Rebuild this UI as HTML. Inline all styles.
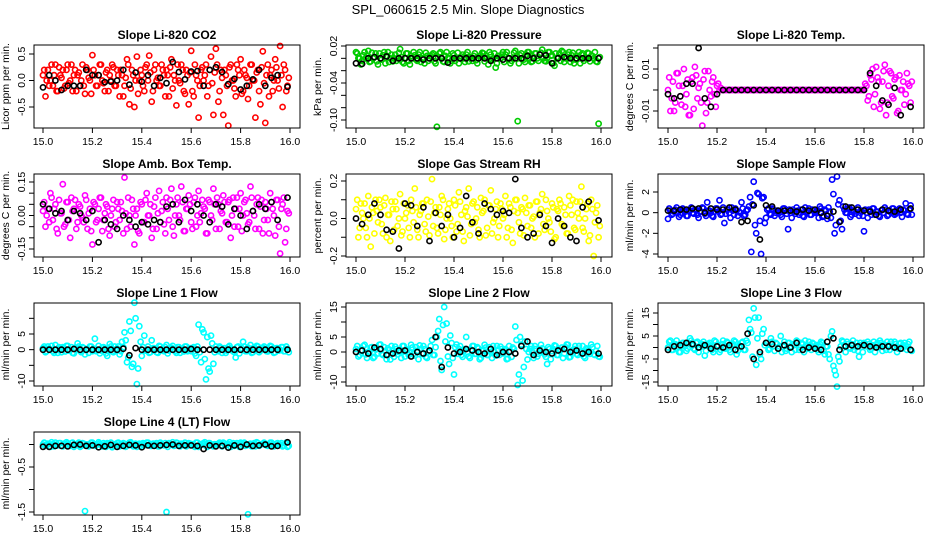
<!DOCTYPE html>
<html><head><meta charset="utf-8"><style>
html,body{margin:0;padding:0;background:#fff;}
svg{display:block;font-family:"Liberation Sans",sans-serif;}
</style></head><body>
<svg id="chart" width="936" height="540" viewBox="0 0 936 540" xmlns="http://www.w3.org/2000/svg">
<rect x="0" y="0" width="936" height="540" fill="#fff"/>
<text x="468" y="14" text-anchor="middle" font-size="13">SPL_060615  2.5 Min. Slope Diagnostics</text>
</svg>
<script>
const times = [15.00,15.01,15.02,15.03,15.04,15.05,15.06,15.07,15.08,15.09,15.10,15.11,15.12,15.13,15.14,15.15,15.16,15.17,15.18,15.19,15.20,15.21,15.22,15.23,15.24,15.25,15.26,15.27,15.28,15.29,15.30,15.31,15.32,15.33,15.34,15.35,15.36,15.37,15.38,15.39,15.40,15.41,15.42,15.43,15.44,15.45,15.46,15.47,15.48,15.49,15.50,15.51,15.52,15.53,15.54,15.55,15.56,15.57,15.58,15.59,15.60,15.61,15.62,15.63,15.64,15.65,15.66,15.67,15.68,15.69,15.70,15.71,15.72,15.73,15.74,15.75,15.76,15.77,15.78,15.79,15.80,15.81,15.82,15.83,15.84,15.85,15.86,15.87,15.88,15.89,15.90,15.91,15.92,15.93,15.94,15.95,15.96,15.97,15.98,15.99];
const times2 = [15.005,15.015,15.025,15.035,15.045,15.055,15.065,15.075,15.085,15.095,15.105,15.115,15.125,15.135,15.145,15.155,15.165,15.175,15.185,15.195,15.205,15.215,15.225,15.235,15.245,15.255,15.265,15.275,15.285,15.295,15.305,15.315,15.325,15.335,15.345,15.355,15.365,15.375,15.385,15.395,15.405,15.415,15.425,15.435,15.445,15.455,15.465,15.475,15.485,15.495,15.505,15.515,15.525,15.535,15.545,15.555,15.565,15.575,15.585,15.595,15.605,15.615,15.625,15.635,15.645,15.655,15.665,15.675,15.685,15.695,15.705,15.715,15.725,15.735,15.745,15.755,15.765,15.775,15.785,15.795,15.805,15.815,15.825,15.835,15.845,15.855,15.865,15.875,15.885,15.895,15.905,15.915,15.925,15.935,15.945,15.955,15.965,15.975,15.985,15.995];
const timesB = [15.000,15.025,15.050,15.075,15.100,15.125,15.150,15.175,15.200,15.225,15.250,15.275,15.300,15.325,15.350,15.375,15.400,15.425,15.450,15.475,15.500,15.525,15.550,15.575,15.600,15.625,15.650,15.675,15.700,15.725,15.750,15.775,15.800,15.825,15.850,15.875,15.900,15.925,15.950,15.990];
const xTicks = [15.0,15.2,15.4,15.6,15.8,16.0];
const xTickLabels = ["15.0","15.2","15.4","15.6","15.8","16.0"];

const co2 = [0.1,-0.3,0.2,0.0,-0.1,0.3,-0.2,0.1,0.2,-0.1,0.3,0.0,-0.2,0.2,0.1,-0.1,0.3,-0.25,0.2,0.0,0.48,0.1,-0.1,0.3,0.0,-0.2,0.2,0.1,0.3,-0.1,0.2,-0.3,0.1,-0.1,0.4,-0.45,0.2,-0.5,0.45,0.0,0.1,-0.2,0.3,0.47,-0.4,0.2,0.0,-0.1,0.3,0.1,0.2,-0.3,0.4,0.1,-0.47,0.0,0.3,-0.2,0.2,-0.45,0.56,-0.3,0.1,-0.7,0.2,0.0,0.3,-0.1,0.45,-0.65,0.6,-0.4,0.2,-0.65,0.1,-0.85,0.3,0.0,-0.3,0.2,0.4,-0.2,0.1,-0.35,0.3,0.0,-0.7,0.2,-0.45,0.55,-0.8,0.3,0.1,-0.2,0.4,0.0,0.65,-0.5,0.2,-0.1];
const co2c = [0.2,0.0,-0.1,0.3,0.1,-0.2,0.25,0.05,-0.15,0.2,-0.05,0.3,0.1,-0.2,0.15,0.0,-0.1,0.25,0.05,-0.25,0.2,-0.1,0.1,0.3,-0.05,0.15,-0.2,0.0,0.25,-0.1,0.1,0.2,-0.3,0.05,0.3,-0.15,0.1,0.0,-0.25,0.2,-0.1,0.25,0.0,0.15,-0.2,0.3,0.05,-0.1,0.2,-0.3,0.1,0.25,-0.15,0.0,0.3,-0.05,0.2,-0.25,0.1,0.15,-0.2,0.3,0.0,-0.1,0.25,0.1,-0.3,0.2,-0.05,0.15,0.3,-0.2,0.05,0.2,-0.1,0.25,0.0,-0.15,0.3,0.1,-0.25,0.2,0.05,-0.1,0.3,0.0,0.15,-0.2,0.25,-0.05,0.1,-0.3,0.2,0.0,0.25,-0.15,0.1,0.3,-0.2,0.05];
const co2B = [-0.13,0.1,0.0,-0.18,-0.1,-0.1,-0.1,0.2,0.1,0.1,-0.03,-0.02,0.0,0.2,-0.08,0.15,-0.02,0.1,-0.1,0.05,-0.05,0.35,0.16,0.02,0.17,0.18,-0.1,0.2,0.25,0.16,-0.07,0.03,-0.17,-0.1,0.02,0.2,-0.1,0.05,0.1,-0.12];
const pres = [0.01,0.0,-0.01,0.005,0.0,0.012,-0.005,0.0,0.008,-0.01,0.0,0.005,-0.008,0.01,0.0,-0.005,0.006,0.0,0.015,-0.006,0.0,0.008,-0.01,0.0,0.005,-0.004,0.01,0.0,-0.008,0.004,0.0,0.006,-0.005,-0.111,0.008,0.0,-0.006,0.01,0.0,-0.004,0.005,0.0,-0.008,0.003,0.0,0.006,-0.005,0.0,0.004,-0.003,0.0,0.005,0.008,0.0,-0.01,0.006,0.0,-0.015,0.004,0.0,0.01,0.006,0.0,-0.008,0.0,0.012,-0.102,0.005,0.0,-0.006,0.01,0.0,-0.005,0.008,0.0,0.006,0.014,-0.004,0.0,0.01,0.005,-0.012,0.0,0.008,0.012,-0.006,0.0,0.01,0.005,-0.008,0.0,0.01,0.006,-0.004,0.0,0.008,0.004,0.0,-0.005,-0.106];
const presc = [0.008,0.0,-0.004,0.01,0.004,-0.006,0.009,0.002,-0.005,0.008,-0.002,0.01,0.004,-0.006,0.006,0.0,-0.004,0.009,0.002,-0.008,0.008,-0.004,0.004,0.01,-0.002,0.006,-0.006,0.0,0.009,-0.004,0.004,0.008,-0.008,0.002,0.01,-0.005,0.004,0.0,-0.008,0.008,-0.004,0.009,0.0,0.006,-0.006,0.01,0.002,-0.004,0.008,-0.008,0.004,0.009,-0.005,0.0,0.01,-0.002,0.008,-0.008,0.004,0.006,-0.006,0.01,0.0,-0.004,0.009,0.004,-0.008,0.008,-0.002,0.006,0.01,-0.006,0.002,0.008,-0.004,0.009,0.0,-0.005,0.01,0.004,-0.008,0.008,0.002,-0.004,0.01,0.0,0.006,-0.006,0.009,-0.002,0.004,-0.008,0.008,0.0,0.009,-0.005,0.004,0.01,-0.006,0.002];
const presB = [-0.008,-0.009,0.0,0.002,0.0,0.003,-0.004,0.0,0.0,0.0,0.0,-0.002,0.0,0.0,0.0,-0.007,0.0,0.0,0.0,0.0,0.0,0.0,-0.004,0.0,-0.002,0.0,0.0,0.0,0.004,0.0,0.006,0.005,-0.008,0.0,0.002,0.0,0.0,0.0,0.0,0.0];
const temp = [0.0,-0.01,0.004,-0.006,0.008,-0.003,0.002,-0.008,0.005,-0.012,0.006,0.011,-0.004,0.003,-0.017,0.009,-0.006,0.0,0.004,-0.002,0.002,0.0,0,0,0,0,0,0,0,0,0,0,0,0,0,0,0,0,0,0,0,0,0,0,0,0,0,0,0,0,0,0,0,0,0,0,0,0,0,0,0,0,0,0,0,0,0,0,0,0,0,0,0,0,0,0,0,0,0,0,0.0,0.002,-0.003,0.005,-0.008,0.011,0.004,-0.006,0.009,-0.012,0.002,0.008,-0.004,0.006,-0.01,0.0,0.004,-0.002,0.003,-0.006];
const tempc = [0.006,-0.004,-0.01,0.008,0.002,-0.007,0.01,-0.002,-0.012,0.004,-0.009,0.007,0.001,-0.006,0.005,-0.011,0.009,-0.003,0.006,-0.008,0.003,0.001,0,0,0,0,0,0,0,0,0,0,0,0,0,0,0,0,0,0,0,0,0,0,0,0,0,0,0,0,0,0,0,0,0,0,0,0,0,0,0,0,0,0,0,0,0,0,0,0,0,0,0,0,0,0,0,0,0,0,0.003,-0.005,0.007,0.01,-0.002,0.006,-0.009,0.004,0.012,-0.006,0.009,-0.003,0.005,-0.011,0.007,0.0,-0.007,0.008,0.002,0.004];
const tempB = [-0.002,-0.004,-0.003,0.003,0.003,0.02,-0.004,-0.008,-0.002,0,0,0,0,0,0,0,0,0,0,0,0,0,0,0,0,0,0,0,0,0,0,0,0.0,0.008,0.002,-0.005,-0.007,0.001,-0.012,-0.008];
const amb = [0.02,-0.05,0.03,0.1,-0.02,0.05,-0.08,0.01,0.14,-0.04,0.06,-0.1,0.02,0.07,-0.03,0.04,-0.01,0.09,-0.06,0.03,-0.13,0.05,-0.02,0.08,-0.07,0.01,0.04,-0.09,0.03,-0.05,0.06,-0.02,0.02,0.17,-0.06,0.0,0.07,-0.13,0.03,-0.08,0.05,-0.03,0.1,0.0,-0.1,0.04,-0.06,0.11,0.02,-0.04,0.08,-0.02,0.12,-0.09,0.05,0.0,0.13,-0.07,0.03,0.09,-0.03,0.06,-0.05,0.11,0.01,0.04,-0.08,0.07,0.0,0.12,-0.06,0.05,0.02,0.09,-0.03,0.06,-0.1,0.08,0.03,-0.05,0.1,0.0,0.07,-0.04,0.13,0.02,-0.06,0.08,0.04,-0.08,0.06,-0.02,0.1,0.03,-0.09,0.07,-0.17,0.05,-0.12,0.02];
const ambc = [0.06,0.0,-0.03,0.08,0.03,-0.06,0.07,0.01,-0.05,0.06,-0.02,0.08,0.03,-0.06,0.05,0.0,-0.03,0.07,0.01,-0.07,0.06,-0.03,0.03,0.08,-0.02,0.05,-0.06,0.0,0.07,-0.03,0.03,0.06,-0.08,0.01,0.08,-0.05,0.03,0.0,-0.07,0.06,-0.03,0.07,0.0,0.05,-0.06,0.08,0.01,-0.03,0.06,-0.08,0.03,0.07,-0.05,0.0,0.08,-0.02,0.06,-0.07,0.03,0.05,-0.06,0.08,0.0,-0.03,0.07,0.03,-0.08,0.06,-0.02,0.05,0.08,-0.06,0.01,0.06,-0.03,0.07,0.0,-0.05,0.08,0.03,-0.07,0.06,0.01,-0.03,0.08,0.0,0.05,-0.06,0.07,-0.02,0.03,-0.08,0.06,0.0,0.07,-0.05,0.03,0.08,-0.06,0.01];
const ambB = [0.05,0.03,0.01,0.02,-0.02,0.02,0.01,-0.02,0.02,-0.12,-0.02,-0.04,-0.06,0.0,-0.02,-0.05,-0.03,-0.04,-0.02,-0.03,0.04,0.05,-0.03,0.07,0.02,0.05,0.0,-0.03,0.05,0.04,-0.04,0.03,0.0,-0.06,0.02,0.05,0.03,0.06,-0.02,0.08];
const rh = [0.05,-0.1,0.08,0.0,-0.05,0.12,-0.15,0.03,0.1,-0.02,0.06,-0.08,0.11,0.02,-0.12,0.05,0.09,-0.04,0.13,-0.07,0.0,0.07,-0.1,0.04,0.16,-0.06,0.02,0.08,-0.03,0.1,-0.09,0.21,0.03,-0.05,0.06,0.12,-0.11,0.0,0.08,-0.04,0.1,-0.07,0.14,0.02,-0.12,0.06,0.16,-0.03,0.09,0.0,-0.06,0.11,0.04,-0.09,0.07,0.15,-0.02,0.05,-0.1,0.08,0.0,0.12,-0.05,0.06,-0.13,0.1,0.03,-0.08,0.05,0.11,-0.04,0.07,0.0,-0.1,0.09,0.03,0.13,-0.06,0.04,-0.02,0.08,-0.11,0.05,0.1,-0.03,0.06,-0.08,0.12,0.02,-0.05,0.09,0.0,0.17,-0.07,0.05,-0.12,0.1,-0.2,0.03,-0.1];
const rhc = [0.1,-0.05,0.03,0.08,-0.1,0.0,0.06,-0.08,0.04,0.1,-0.03,0.07,-0.1,0.02,0.09,-0.06,0.05,0.0,-0.09,0.08,0.03,-0.05,0.1,-0.02,0.06,-0.1,0.04,0.08,-0.07,0.01,0.09,-0.04,0.06,-0.08,0.02,0.1,-0.06,0.05,0.0,-0.1,0.07,-0.03,0.09,-0.07,0.04,0.01,-0.09,0.08,-0.02,0.06,-0.1,0.03,0.1,-0.05,0.07,-0.08,0.0,0.09,-0.04,0.05,0.02,-0.1,0.08,-0.06,0.04,0.1,-0.02,0.06,-0.09,0.03,0.07,-0.05,0.01,0.09,-0.08,0.05,-0.03,0.1,0.0,-0.07,0.06,-0.1,0.04,0.08,-0.04,0.02,-0.08,0.07,0.1,-0.06,0.03,0.09,-0.05,0.0,0.08,-0.09,0.05,-0.02,0.07,-0.04];
const rhB = [0.0,-0.03,0.02,0.08,0.02,-0.06,-0.07,-0.16,0.08,0.07,-0.04,0.06,-0.12,0.03,-0.04,0.02,-0.1,-0.05,0.12,-0.02,-0.08,0.08,0.05,0.02,0.04,0.03,0.21,-0.05,-0.1,-0.08,0.02,-0.04,-0.13,0.0,-0.04,-0.1,-0.12,0.06,0.09,-0.01];
const samp = [-0.6,0.2,-0.1,0.3,0.0,-0.2,0.4,0.1,-0.3,0.2,0.0,0.3,-0.2,0.1,0.5,-0.1,1.0,0.2,-0.3,0.1,0.4,1.2,-0.1,-1.0,0.3,0.0,0.5,-0.2,0.2,0.1,1.0,-0.3,0.2,0.6,-3.8,3.0,-2.0,1.8,-4.0,1.5,-0.5,0.4,-0.2,0.3,0.0,0.1,-0.2,0.4,0.2,-1.6,0.0,0.3,-0.1,0.2,0.0,-0.3,0.5,0.1,-0.2,0.3,0.0,0.2,0.6,-0.4,0.3,-0.6,0.1,3.2,-2.0,3.5,1.2,-1.6,0.3,0.0,0.5,-0.2,0.1,0.3,-0.3,0.2,-1.8,0.0,0.3,-0.2,0.4,0.1,-0.3,0.2,0.0,0.3,-0.2,0.1,0.4,-0.1,0.2,0.0,0.3,0.9,-0.2,0.7];
const sampc = [0.4,-0.2,0.1,0.5,-0.4,0.0,0.3,-0.3,0.2,0.5,-0.1,0.3,-0.5,0.1,0.4,-0.3,0.2,0.0,-0.4,0.4,0.1,-0.2,0.5,-0.1,0.3,-0.5,0.2,0.4,-0.3,0.0,0.4,-0.2,0.3,1.5,0.8,-1.2,1.9,-0.8,1.4,-1.0,0.3,-0.1,0.4,-0.3,0.2,0.0,-0.4,0.4,-0.1,0.3,-0.5,0.1,0.5,-0.2,0.3,-0.4,0.0,0.4,-0.2,0.2,0.1,-0.5,0.4,-0.3,0.2,0.5,-0.5,1.8,-1.2,0.8,-0.8,0.6,0.0,0.4,-0.4,0.2,-0.1,0.5,0.0,-0.3,0.3,-0.5,0.2,0.4,-0.2,0.1,-0.4,0.3,0.5,-0.3,0.1,0.4,-0.2,0.0,0.4,-0.4,0.2,-0.1,0.3,-0.2];
const sampB = [0.2,0.2,0.3,0.3,0.4,0.4,0.0,0.4,0.3,0.3,0.5,0.3,-0.9,-0.8,0.7,-2.6,0.7,0.6,0.2,0.2,0.2,0.1,0.3,0.2,0.3,0.0,-0.3,0.1,-0.9,0.6,0.5,0.3,0.2,0.1,-0.2,0.3,0.2,0.1,0.3,0.4];
const line1 = [0.5,-0.8,1.0,0.0,-0.5,1.5,-1.0,0.3,0.8,-0.6,1.2,0.0,-1.0,0.6,2.0,-0.4,0.8,-1.5,0.2,1.0,-0.5,3.5,0.0,-1.2,0.7,0.3,-2.0,1.8,-0.6,1.0,0.4,-1.5,2.5,5.5,-4.0,9.0,-5.5,15.0,-11.0,7.5,-2.0,4.5,0.0,-1.0,3.0,0.5,-0.8,1.2,0.0,-0.5,1.5,-0.3,0.6,0.0,-1.0,0.8,0.2,-0.6,1.0,0.0,-0.5,0.8,-2.0,8.0,-4.0,5.5,-9.5,-6.0,4.5,-4.5,1.0,-0.5,0.6,0.0,-1.0,0.8,0.3,-0.6,-2.5,1.0,0.0,2.5,-0.5,0.7,1.5,-0.8,0.3,1.0,-0.4,0.6,0.0,-0.6,1.2,0.3,-0.8,0.5,0.0,0.8,-0.5,0.2];
const line1c = [1.0,-0.5,0.3,1.2,-1.0,0.0,0.8,-0.8,0.5,1.2,-0.3,0.8,-1.2,0.3,1.0,-0.8,0.5,0.0,-1.0,1.0,0.3,-0.5,1.2,-0.3,0.8,-1.2,0.5,1.0,-0.8,0.0,1.0,-0.5,0.8,3.0,-2.5,6.0,-4.5,10.0,-6.0,2.5,0.8,-0.3,1.0,-0.8,0.5,0.0,-1.0,1.0,-0.3,0.8,-1.2,0.3,1.2,-0.5,0.8,-1.0,0.0,1.0,-0.5,0.5,0.3,-1.2,1.0,-0.8,6.5,-3.0,4.0,-7.0,2.0,-0.8,0.0,1.0,-1.0,0.5,-0.3,1.2,0.0,-0.8,0.8,-1.2,0.5,1.0,-0.5,0.3,-1.0,0.8,1.2,-0.8,0.3,1.0,-0.5,0.0,1.0,-1.0,0.5,-0.3,0.8,-0.5,1.0,-0.8];
const line1B = [0,0,0,0,0,0.2,0,0,0,0,0,0,0,0.3,-1.8,0.5,0,0,0,0,0,0,0,0,0.2,0,0,0,0,0,0,0,0,0,0,0,0,0,0,0];
const line2 = [1.0,-1.5,0.5,2.0,-0.8,0.0,1.5,-2.0,0.8,-0.5,2.5,-1.0,0.3,1.2,-2.5,0.6,1.8,-0.8,0.0,2.0,-1.5,0.8,-0.3,1.5,-1.2,0.4,2.2,-0.6,1.0,-2.0,0.5,4.0,-1.0,5.0,11.0,-6.0,15.0,9.5,-4.0,3.0,-7.5,2.5,1.0,-1.0,0.5,5.0,-1.5,0.8,2.0,-0.6,1.2,-2.0,0.4,1.5,-1.0,0.0,2.0,-1.2,0.6,1.8,-0.5,1.0,-2.2,0.3,1.5,8.5,-11.0,5.0,-9.5,3.5,-2.5,1.0,0.0,2.0,-1.5,0.5,1.2,-0.8,-4.0,1.0,0.3,2.2,-1.0,0.8,1.5,-0.5,2.5,-1.8,0.4,1.0,-0.6,2.0,0.0,-1.5,1.2,0.6,2.5,-0.8,0.3,-1.5];
const line2c = [2.0,-1.0,0.6,2.4,-2.0,0.0,1.6,-1.6,1.0,2.4,-0.6,1.6,-2.4,0.6,2.0,-1.6,1.0,0.0,-2.0,2.0,0.6,-1.0,2.4,-0.6,1.6,-2.4,1.0,2.0,-1.6,0.0,2.0,-1.0,1.6,7.0,-3.0,9.0,3.5,-1.5,5.5,-2.0,1.6,-0.6,2.0,-1.6,1.0,0.0,-2.0,2.0,-0.6,1.6,-2.4,0.6,2.4,-1.0,1.6,-2.0,0.0,2.0,-1.0,1.0,0.6,-2.4,2.0,-1.6,1.0,4.0,-7.5,2.5,-5.0,1.0,0.0,2.0,-2.0,1.0,-0.6,2.4,0.0,-1.6,1.6,-2.4,1.0,2.0,-1.0,0.6,-2.0,1.6,2.4,-1.6,0.6,2.0,-1.0,0.0,2.0,-2.0,1.0,-0.6,1.6,-1.0,2.0,-1.6];
const line2B = [0,0.5,-0.5,1.5,1.0,-1.0,-0.5,0.5,0.5,-1.5,0,-0.5,0.5,5.0,-5.0,1.5,-0.5,0,1.0,0.5,0,-0.5,1,-1,0,0,-0.5,2.0,3.5,-1.0,0.5,0,-0.5,0.5,1,0,0.5,-0.5,0,-0.5];
const line3 = [0.0,3.0,-1.0,1.5,0.5,-2.0,2.0,0.8,-0.5,4.0,1.0,-1.0,2.5,0.0,1.5,-3.5,1.0,2.0,-1.0,3.0,0.5,-2.0,1.5,0.0,2.5,-1.0,1.0,3.0,-3.0,0.5,2.0,-1.0,3.0,12.0,6.5,17.0,-7.5,13.0,-5.0,8.0,2.0,-1.0,4.0,0.5,2.0,-0.5,5.0,1.0,-1.5,2.0,0.5,1.5,-1.0,2.5,0.0,1.5,3.0,-0.5,1.0,2.0,0.0,-1.0,1.5,2.0,-3.0,0.5,-5.0,7.0,-10.0,-17.0,-6.0,3.0,1.0,2.5,0.0,1.5,-1.0,2.0,-4.0,1.0,2.0,0.5,1.5,-0.5,2.5,1.0,0.0,2.0,1.5,-1.0,1.0,2.5,0.0,1.5,-0.5,2.0,1.0,0.5,1.5,-1.0];
const line3c = [2.5,-1.0,1.0,3.0,-2.0,0.5,2.0,-1.5,1.5,3.0,-0.5,2.0,-2.0,1.0,2.5,-1.5,1.5,0.5,-2.0,2.5,1.0,-1.0,3.0,-0.5,2.0,-2.0,1.5,2.5,-1.5,0.5,2.5,-1.0,2.0,8.0,-4.0,13.0,4.0,-3.0,6.0,1.0,2.0,-0.5,2.5,-1.5,1.5,0.5,-2.0,2.5,-0.5,2.0,-2.0,1.0,3.0,-1.0,2.0,-2.0,0.5,2.5,-1.0,1.5,1.0,-2.0,2.5,-1.5,0.5,-3.0,5.0,-8.0,-12.0,-4.0,0.5,2.5,-2.0,1.5,-0.5,3.0,0.5,-1.5,2.0,-2.0,1.5,2.5,-1.0,1.0,-2.0,2.0,3.0,-1.5,1.0,2.5,-1.0,0.5,2.5,-2.0,1.5,-0.5,2.0,-1.0,2.5,-1.5];
const line3B = [-1,0.5,1,2,1.5,0,1,-0.5,0.5,0,1,-1,0.5,6,-5,-2,2,1.5,-0.5,1,0,2,-1,0,-0.5,-1,2.5,4,-1,0.5,1,0.5,1,0.5,0,0.5,0.5,0,-0.5,-1];
const line4 = [0.0,-0.03,0.02,-0.05,0.01,0.04,-0.02,0.03,-0.04,0.0,0.02,-0.03,0.04,-0.01,0.01,-0.05,0.03,-1.48,0.0,-0.02,0.04,-0.03,0.01,0.02,-0.04,0.0,0.03,-0.02,-0.06,0.01,0.03,-0.04,0.0,0.02,-0.03,0.04,-0.01,0.0,-0.05,0.02,0.01,-0.02,0.04,0.0,-0.03,0.02,0.03,-0.04,0.01,-0.02,-1.5,0.03,0.0,-0.03,0.04,-0.01,0.02,0.0,-0.04,0.03,0.01,-0.02,0.04,-0.05,0.0,0.02,-0.03,0.03,0.01,-0.04,0.0,0.02,-0.02,0.04,-0.01,0.01,-0.05,0.03,0.0,-0.02,0.04,0.01,-0.03,-1.55,0.02,0.0,-0.04,0.03,-0.01,0.02,0.0,-0.03,0.04,0.01,-0.02,0.03,0.0,-0.04,0.02,-0.05];
const line4c = [0.04,-0.02,0.01,0.05,-0.04,0.0,0.03,-0.03,0.02,0.05,-0.01,0.03,-0.05,0.01,0.04,-0.03,0.02,0.0,-0.04,0.04,0.01,-0.02,0.05,-0.01,0.03,-0.05,0.02,0.04,-0.03,0.0,0.04,-0.02,0.03,-0.05,0.01,0.05,-0.04,0.02,0.0,-0.03,0.03,-0.01,0.04,-0.03,0.02,0.0,-0.04,0.04,-0.01,0.03,-0.05,0.01,0.05,-0.02,0.03,-0.04,0.0,0.04,-0.02,0.02,0.01,-0.05,0.04,-0.03,0.02,0.05,-0.05,0.03,-0.02,0.01,0.0,0.04,-0.04,0.02,-0.01,0.05,0.0,-0.03,0.03,-0.05,0.02,0.04,-0.02,0.01,-0.04,0.03,0.05,-0.03,0.01,0.04,-0.02,0.0,0.04,-0.04,0.02,-0.01,0.03,-0.02,0.04,-0.03];
const line4B = [-0.05,-0.05,-0.03,-0.03,-0.04,-0.01,0.0,-0.03,-0.02,-0.06,-0.04,-0.01,-0.05,-0.03,-0.01,-0.02,-0.06,-0.02,-0.03,-0.02,-0.01,0.0,-0.03,-0.02,-0.02,-0.03,-0.1,-0.02,-0.04,-0.03,-0.07,-0.02,-0.05,0.0,-0.03,-0.02,0.0,-0.04,-0.03,0.05];

const panels = [
 {name:"co2",title:"Slope Li-820 CO2",ylab:"Licor ppm per min.",col:0,row:0,color:"#ff0000",y:co2,y2:co2c,yb:co2B,ref:[0.5,54,-0.5,107],ticks:[0.5,0,-0.5],labels:["0.5","0.0","-0.5"]},
 {name:"pressure",title:"Slope Li-820 Pressure",ylab:"kPa per min.",col:1,row:0,color:"#00cc00",y:pres,y2:presc,yb:presB,ref:[0.02,46,-0.10,120],ticks:[0.02,0,-0.02,-0.04,-0.06,-0.08,-0.10],labels:["0.02","","","-0.04","","","-0.10"]},
 {name:"temp",title:"Slope Li-820 Temp.",ylab:"degrees C per min.",col:2,row:0,color:"#ff00ff",y:temp,y2:tempc,yb:tempB,ref:[0.01,69,-0.01,111],ticks:[0.02,0.01,0,-0.01],labels:["","0.01","","-0.01"]},
 {name:"amb-box-temp",title:"Slope Amb. Box Temp.",ylab:"degrees C per min.",col:0,row:1,color:"#ff00ff",y:amb,y2:ambc,yb:ambB,ref:[0.15,182,-0.15,249],ticks:[0.15,0.1,0.05,0,-0.05,-0.1,-0.15],labels:["0.15","","","0.00","","","-0.15"]},
 {name:"gas-rh",title:"Slope Gas Stream RH",ylab:"percent per min.",col:1,row:1,color:"#ffff00",y:rh,y2:rhc,yb:rhB,ref:[0.2,181,-0.2,256],ticks:[0.2,0.1,0,-0.1,-0.2],labels:["0.2","","0.0","","-0.2"]},
 {name:"sample-flow",title:"Slope Sample Flow",ylab:"ml/min per min.",col:2,row:1,color:"#0000ff",y:samp,y2:sampc,yb:sampB,ref:[2,192,-4,254],ticks:[2,0,-2,-4],labels:["2","0","-2","-4"]},
 {name:"line1-flow",title:"Slope Line 1 Flow",ylab:"ml/min per min.",col:0,row:2,color:"#00ffff",y:line1,y2:line1c,yb:line1B,ref:[5,334,-10,381],ticks:[10,5,0,-5,-10],labels:["","5","0","","-10"]},
 {name:"line2-flow",title:"Slope Line 2 Flow",ylab:"ml/min per min.",col:1,row:2,color:"#00ffff",y:line2,y2:line2c,yb:line2B,ref:[15,307,-10,382],ticks:[15,10,5,0,-5,-10],labels:["15","","5","0","","-10"]},
 {name:"line3-flow",title:"Slope Line 3 Flow",ylab:"ml/min per min.",col:2,row:2,color:"#00ffff",y:line3,y2:line3c,yb:line3B,ref:[15,313,-15,382],ticks:[15,10,5,0,-5,-10,-15],labels:["15","","5","","-5","","-15"]},
 {name:"line4-flow",title:"Slope Line 4 (LT) Flow",ylab:"ml/min per min.",col:0,row:3,color:"#00ffff",y:line4,y2:line4c,yb:line4B,ref:[-0.5,467,-1.5,512],ticks:[0,-0.5,-1,-1.5],labels:["","-0.5","","-1.5"]}
];
const colBox = [[34,300,43,290],[346,612,356,601],[658,924,668,913]];
const rowTop = [45,174,303,432];
const NS = "http://www.w3.org/2000/svg";
const svg = document.getElementById('chart');
function mk(tag, attrs, parent){
  const e = document.createElementNS(NS, tag);
  for (const k in attrs) e.setAttribute(k, attrs[k]);
  (parent||svg).appendChild(e);
  return e;
}
panels.forEach(p => {
  const [bl, br, x0, x1] = colBox[p.col];
  const bt = rowTop[p.row], bb = bt + 83;
  const xs = v => x0 + (v - 15) * (x1 - x0);
  const ys = v => p.ref[1] + (v - p.ref[0]) * (p.ref[3] - p.ref[1]) / (p.ref[2] - p.ref[0]);
  const g = mk('g', {});
  
  
  const t = mk('text', {x:(bl+br)/2, y:bt-6, 'text-anchor':'middle', 'font-size':'12', 'font-weight':'bold'}, g);
  t.textContent = p.title;
  
  
  const yl = mk('text', {x:0, y:0, transform:`translate(${bl-25},${(bt+bb)/2}) rotate(-90)`, 'text-anchor':'middle', 'font-size':'10.5'}, g);
  yl.textContent = p.ylab;
  
  
  const pts = mk('g', {fill:'none', stroke:p.color, 'stroke-width':'1.6'}, g);
  
  
  p.y.forEach((v, i) => {
    if (times[i] === undefined) return;
    const c = mk('circle', {cx:xs(times[i]).toFixed(1), cy:ys(v).toFixed(1), r:'2.6'}, pts);
    
    
  });
  p.y2.forEach((v, i) => {
    if (times2[i] === undefined) return;
    const c = mk('circle', {cx:xs(times2[i]).toFixed(1), cy:ys(v).toFixed(1), r:'2.6'}, pts);
    
    
  });
  const bpts = mk('g', {fill:'none', stroke:'#000', 'stroke-width':'1.6'}, g);
  
  
  p.yb.forEach((v, i) => {
    if (timesB[i] === undefined) return;
    const c = mk('circle', {cx:xs(timesB[i]).toFixed(1), cy:ys(v).toFixed(1), r:'2.6'}, bpts);
    
    
  });
  const box = mk('rect', {x:bl, y:bt, width:br-bl, height:bb-bt, fill:'none', stroke:'#000', 'stroke-width':'1'}, g);
  
  
  const xa = mk('g', {}, g);
  
  
  xTicks.forEach((v, i) => {
    const x = xs(v);
    mk('line', {x1:x, x2:x, y1:bb, y2:bb+5, stroke:'#000'}, xa);
    const tl = mk('text', {x:x, y:bb+17, 'text-anchor':'middle', 'font-size':'10.5'}, xa);
    tl.textContent = xTickLabels[i];
    
    
  });
  const ya = mk('g', {}, g);
  
  
  p.ticks.forEach((v, i) => {
    const y = ys(v);
    mk('line', {x1:bl-5, x2:bl, y1:y, y2:y, stroke:'#000'}, ya);
    if (p.labels[i]) {
      const tl = mk('text', {x:0, y:0, transform:`translate(${bl-9},${y}) rotate(-90)`, 'text-anchor':'middle', 'font-size':'10.5'}, ya);
      tl.textContent = p.labels[i];
      
      
    }
  });
});
</script>
</body></html>
